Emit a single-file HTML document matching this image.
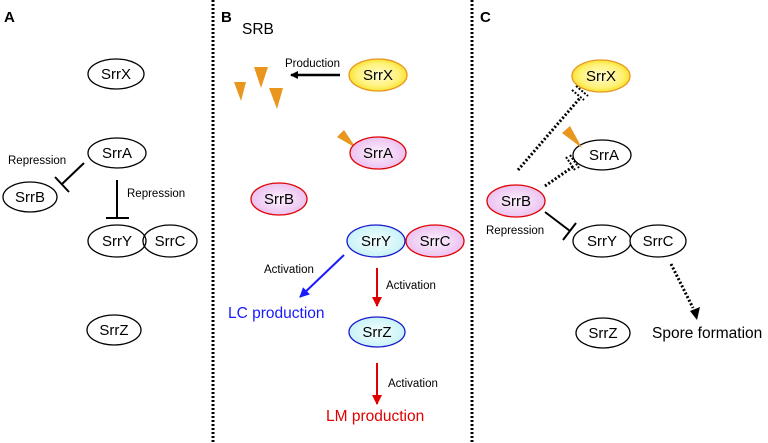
<!DOCTYPE html>
<html><head><meta charset="utf-8"><style>
body{margin:0;background:#fff}
svg{display:block;font-family:"Liberation Sans",Arial,sans-serif}
</style></head><body>
<svg width="768" height="443" viewBox="0 0 768 443" xmlns="http://www.w3.org/2000/svg">
<defs>
<radialGradient id="yel" cx="50%" cy="50%" r="60%"><stop offset="0" stop-color="#fffbd0"/><stop offset="0.6" stop-color="#fff27a"/><stop offset="1" stop-color="#f5d800"/></radialGradient>
<radialGradient id="pink" cx="50%" cy="50%" r="60%"><stop offset="0" stop-color="#fdf2fd"/><stop offset="1" stop-color="#e8b8ee"/></radialGradient>
<radialGradient id="blue" cx="50%" cy="50%" r="60%"><stop offset="0" stop-color="#f6ffff"/><stop offset="1" stop-color="#bff0f5"/></radialGradient>
<marker id="ak" markerWidth="8" markerHeight="8" refX="7" refY="4" orient="auto" markerUnits="userSpaceOnUse"><path d="M0,0 L8,4 L0,8z" fill="#000"/></marker>
<marker id="ab" markerWidth="10" markerHeight="10" refX="9" refY="5" orient="auto" markerUnits="userSpaceOnUse"><path d="M0,0 L10,5 L0,10z" fill="#1a1aff"/></marker>
<marker id="ar" markerWidth="10" markerHeight="10" refX="9" refY="5" orient="auto" markerUnits="userSpaceOnUse"><path d="M0,0 L10,5 L0,10z" fill="#e00000"/></marker>
</defs>
<g stroke="#000" stroke-width="3" stroke-dasharray="2 2">
<line x1="213" y1="0" x2="213" y2="443"/>
<line x1="472" y1="0" x2="472" y2="443"/>
</g>
<g font-weight="bold" font-size="15"><text x="4" y="22">A</text><text x="221" y="22">B</text><text x="480" y="22">C</text></g>

<!-- Panel A -->
<g fill="none" stroke="#000" stroke-width="1.3">
<ellipse cx="116" cy="74" rx="28" ry="15" fill="#fff"/>
<ellipse cx="117" cy="153" rx="29" ry="15"/>
<ellipse cx="30" cy="197" rx="27" ry="15"/>
<ellipse cx="117" cy="241" rx="29" ry="16"/>
<ellipse cx="170" cy="241" rx="27" ry="16"/>
<ellipse cx="114" cy="330" rx="27" ry="15"/>
</g>
<g stroke="#000" stroke-width="2">
<line x1="84" y1="163" x2="62" y2="184"/><line x1="55" y1="177" x2="69" y2="192"/>
<line x1="117" y1="180" x2="117" y2="218"/><line x1="106" y1="218" x2="129" y2="218"/>
</g>
<g font-size="15" text-anchor="middle">
<text x="116" y="79">SrrX</text><text x="117" y="158">SrrA</text><text x="30" y="202">SrrB</text>
<text x="117" y="246">SrrY</text><text x="170" y="246">SrrC</text><text x="114" y="335">SrrZ</text>
</g>
<g font-size="11.5"><text x="8" y="164">Repression</text><text x="127" y="197">Repression</text></g>

<!-- Panel B -->
<text x="242" y="34" font-size="15.5">SRB</text>
<g fill="#e8961e">
<path d="M254,67 L268,67 L261,88z"/><path d="M234,82 L246,82 L241,101z"/><path d="M269,88 L283,88 L277,109z"/>
<path d="M337,137 L344,130 L356,148z"/>
</g>
<line x1="340" y1="75" x2="291" y2="75" stroke="#000" stroke-width="2.5" marker-end="url(#ak)"/>
<text x="285" y="67" font-size="11.5">Production</text>
<ellipse cx="378" cy="75" rx="29" ry="16" fill="url(#yel)" stroke="#e8961e" stroke-width="1.3"/>
<ellipse cx="378" cy="153" rx="28" ry="16" fill="url(#pink)" stroke="#e00000" stroke-width="1.3"/>
<ellipse cx="279" cy="199" rx="28" ry="16" fill="url(#pink)" stroke="#e00000" stroke-width="1.3"/>
<ellipse cx="376" cy="241" rx="29" ry="16" fill="url(#blue)" stroke="#1a1acc" stroke-width="1.3"/>
<ellipse cx="435" cy="241" rx="29" ry="16" fill="url(#pink)" stroke="#e00000" stroke-width="1.3"/>
<ellipse cx="377" cy="332" rx="28" ry="15" fill="url(#blue)" stroke="#1a1acc" stroke-width="1.3"/>
<g font-size="15" text-anchor="middle">
<text x="378" y="80">SrrX</text><text x="378" y="158">SrrA</text><text x="279" y="204">SrrB</text>
<text x="376" y="246">SrrY</text><text x="435" y="246">SrrC</text><text x="377" y="337">SrrZ</text>
</g>
<line x1="344" y1="255" x2="300" y2="297" stroke="#1a1aff" stroke-width="2" marker-end="url(#ab)"/>
<line x1="377" y1="268" x2="377" y2="306" stroke="#e00000" stroke-width="2" marker-end="url(#ar)"/>
<line x1="377" y1="363" x2="377" y2="404" stroke="#e00000" stroke-width="2" marker-end="url(#ar)"/>
<g font-size="11.5"><text x="264" y="273">Activation</text><text x="386" y="289">Activation</text><text x="388" y="387">Activation</text></g>
<text x="228" y="318" font-size="15.5" fill="#1a1aff">LC production</text>
<text x="326" y="421" font-size="15.5" fill="#e00000">LM production</text>

<!-- Panel C -->
<ellipse cx="601" cy="76" rx="29" ry="16" fill="url(#yel)" stroke="#e8961e" stroke-width="1.3"/>
<ellipse cx="602" cy="155" rx="29" ry="15" fill="#fff" stroke="#000" stroke-width="1.3"/>
<path d="M562,133 L570,126 L582,148z" fill="#e8961e"/>
<ellipse cx="516" cy="201" rx="29" ry="16" fill="url(#pink)" stroke="#e00000" stroke-width="1.3"/>
<ellipse cx="602" cy="241" rx="29" ry="16" fill="#fff" stroke="#000" stroke-width="1.3"/>
<ellipse cx="658" cy="241" rx="28" ry="16" fill="#fff" stroke="#000" stroke-width="1.3"/>
<ellipse cx="603" cy="333" rx="27" ry="15" fill="#fff" stroke="#000" stroke-width="1.3"/>
<g font-size="15" text-anchor="middle">
<text x="601" y="81">SrrX</text><text x="604" y="160">SrrA</text><text x="516" y="206">SrrB</text>
<text x="602" y="246">SrrY</text><text x="658" y="246">SrrC</text><text x="603" y="338">SrrZ</text>
</g>
<g stroke="#000" stroke-width="3" stroke-dasharray="2 2">
<line x1="518" y1="170" x2="580" y2="98"/>
<line x1="545" y1="186" x2="574" y2="166"/>
<line x1="671" y1="264" x2="693" y2="308"/>
</g>
<g stroke="#000" stroke-width="2" stroke-dasharray="2 1.5">
<line x1="572" y1="90" x2="584" y2="100"/><line x1="576" y1="86" x2="588" y2="96"/>
<line x1="566" y1="157" x2="575" y2="170"/><line x1="570" y1="155" x2="579" y2="168"/>
</g>
<path d="M690,311 L700,307 L697,320z" fill="#000"/>
<g stroke="#000" stroke-width="2"><line x1="545" y1="212" x2="570" y2="231"/><line x1="563" y1="240" x2="576" y2="223"/></g>
<text x="486" y="234" font-size="11.5">Repression</text>
<text x="652" y="338" font-size="15.5">Spore formation</text>
</svg>
</body></html>
